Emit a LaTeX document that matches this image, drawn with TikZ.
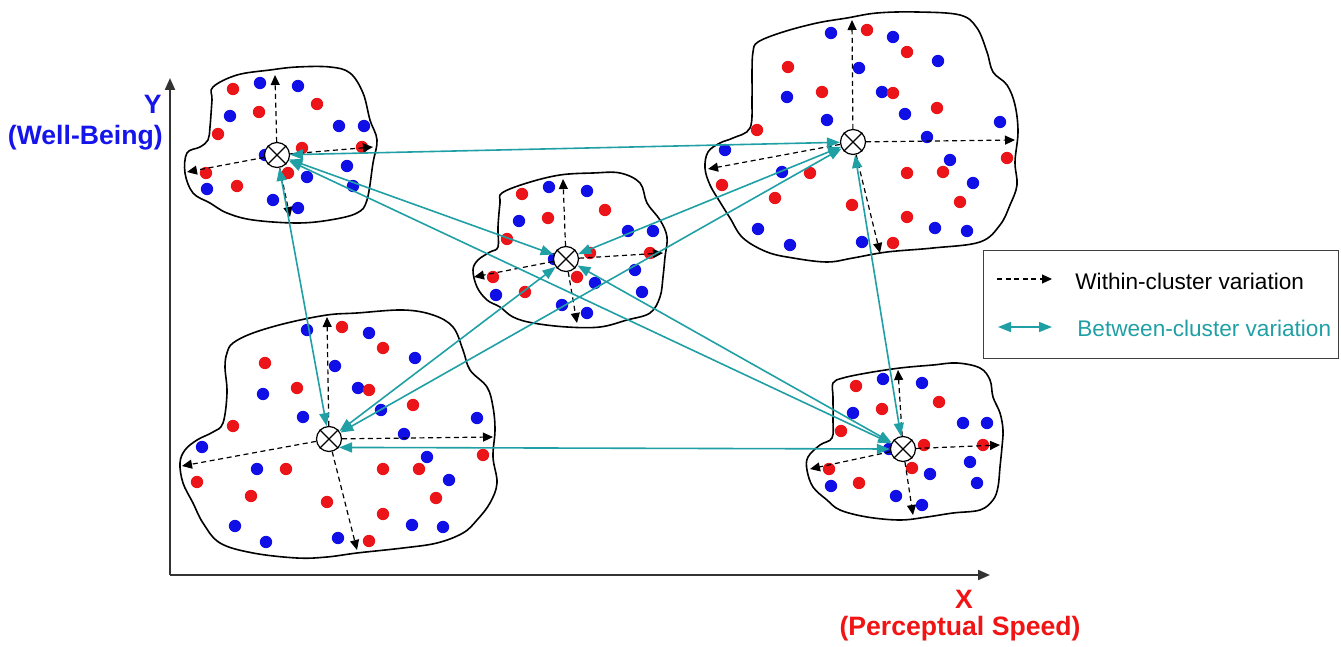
\documentclass[tikz,border=0pt]{standalone}
\usepackage{fontspec}
\setmainfont{Liberation Sans}
\usetikzlibrary{arrows.meta}
\definecolor{tealc}{RGB}{32,160,165}
\definecolor{dotred}{RGB}{235,20,25}
\definecolor{dotblue}{RGB}{15,15,230}
\definecolor{lblblue}{RGB}{20,20,235}
\definecolor{lblred}{RGB}{240,20,20}
\begin{document}
\begin{tikzpicture}[x=0.5pt,y=-0.5pt,
  blob/.style={draw=black,line width=0.8pt},
  ctr/.style={circle,draw=black,fill=white,line width=0.6pt,minimum size=12.5pt,inner sep=0pt},
  within/.style={draw=black,line width=0.6pt,dash pattern=on 2.5pt off 1.8pt,-{Triangle[length=5pt,width=4.5pt]}},
  between/.style={draw=tealc,line width=0.8pt,{Triangle[length=6.5pt,width=5pt]}-{Triangle[length=6.5pt,width=5pt]}},
  axis/.style={draw=black!80,line width=1pt,-{Triangle[length=6pt,width=5pt]}},
  lbl/.style={font=\bfseries\fontsize{13.3pt}{15pt}\selectfont,inner sep=0pt},
  legtxt/.style={font=\fontsize{11.3pt}{13pt}\selectfont,inner sep=0pt,anchor=west},
]
\useasboundingbox (0,0) rectangle (1341,647);

% axes
\coordinate (o) at (170,575);
\coordinate (ytip) at (170,78);
\coordinate (xtip) at (990,575);
\draw[axis] (o) -- (ytip);
\draw[axis] (o) -- (xtip);
\node[lbl,text=lblblue,anchor=base east] (ylab) at (162,114) {Y};
\node[lbl,text=lblblue,anchor=base east] (ylab2) at (163,145) {(Well-Being)};
\node[lbl,text=lblred,anchor=base] (xlab) at (964,608) {X};
\node[lbl,text=lblred,anchor=base] (xlab2) at (960,635) {(Perceptual Speed)};

% blobs
\draw[blob] plot[smooth cycle,tension=0.6] coordinates {(213,87) (237,75) (270,70) (297,67) (330,67) (350,73) (363,93) (370,120) (377,140) (373,163) (367,200) (357,213) (330,220) (297,223) (253,220) (227,213) (210,203) (193,193) (185,173) (187,153) (200,147) (208,140) (210,127) (212,100)};
\draw[blob] plot[smooth cycle,tension=0.6] coordinates {(502,193) (527,183) (560,175) (593,173) (620,173) (640,183) (647,203) (660,220) (667,237) (665,257) (663,277) (660,297) (650,313) (627,320) (600,327) (567,327) (533,323) (513,317) (500,307) (487,300) (477,287) (473,270) (478,260) (490,252) (498,247) (498,227) (500,203)};
\draw[blob] plot[smooth cycle,tension=0.6] coordinates {(753,52) (758,42) (783,32) (817,23) (847,18) (877,13) (917,12) (960,15) (977,28) (987,52) (993,72) (1007,85) (1015,105) (1018,132) (1015,162) (1017,185) (1010,205) (1000,225) (980,242) (933,248) (887,252) (853,258) (827,262) (793,258) (767,252) (743,238) (730,218) (720,202) (710,185) (705,168) (708,152) (720,143) (733,138) (750,128) (752,98) (752,72)};
\draw[blob] plot[smooth cycle,tension=0.6] coordinates {(227,353) (233,343) (253,333) (287,323) (327,315) (357,313) (403,310) (433,315) (453,327) (463,350) (470,370) (487,387) (493,407) (495,430) (493,457) (497,483) (490,503) (477,520) (463,533) (437,543) (403,548) (357,553) (327,557) (297,558) (253,553) (220,543) (203,523) (193,503) (183,483) (180,463) (185,450) (197,440) (213,432) (223,423) (227,393) (225,367)};
\draw[blob] plot[smooth cycle,tension=0.6] coordinates {(833,383) (843,378) (867,373) (900,368) (933,365) (957,363) (980,368) (990,380) (993,397) (1000,413) (1003,430) (1002,447) (1000,467) (998,487) (993,500) (980,510) (953,513) (927,517) (900,520) (867,517) (840,510) (827,500) (813,487) (807,470) (808,457) (820,445) (832,438) (833,420) (833,397)};

% dots: blue first, red on top
\foreach \x/\y in {260/83,298/86,230/116,339/126,364/126,265/155,347/166,307/177,353/186,207/189,273/200,298/208,
  549/187,587/191,519/221,628/231,653/231,554/259,635/270,595/283,642/292,496/295,562/305,587/313,
  831/33,893/37,938/61,859/68,787/97,882/92,827/120,905/114,1000/122,927/137,725/150,950/160,782/172,973/183,758/229,790/245,862/242,935/228,967/231,
  307/330,369/333,415/358,335/366,263/394,358/388,303/417,381/410,477/418,404/434,202/447,427/457,257/469,449/480,235/526,412/525,443/527,266/542,338/538,
  883/379,922/383,853/413,963/423,987/423,889/449,970/462,930/474,977/483,831/486,896/496,922/505}
  \fill[dotblue] (\x,\y) circle[radius=3.1pt];
\foreach \x/\y in {233/89,259/112,218/134,317/104,302/148,362/147,206/173,237/186,288/173,
  522/194,548/218,605/210,507/239,590/253,650/253,493/277,525/292,577/277,
  867/30,907/52,788/67,822/92,893/93,937/108,757/130,1007/158,810/173,907/173,943/172,722/185,775/198,852/205,960/202,907/217,893/243,
  342/327,383/348,265/363,297/388,369/390,413/405,233/426,483/455,286/469,383/469,419/469,197/482,251/496,327/502,436/498,383/514,369/541,
  856/386,939/402,882/409,841/431,924/445,983/445,829/469,859/483,912/468}
  \fill[dotred] (\x,\y) circle[radius=3.1pt];

% cluster centres
\node[ctr] (c1) at (277,155) {};
\node[ctr] (c2) at (566,259) {};
\node[ctr] (c3) at (853,142) {};
\node[ctr] (c4) at (329,439) {};
\node[ctr] (c5) at (903,449) {};
\foreach \c in {c1,c2,c3,c4,c5}
  \draw[line width=0.6pt] (\c.45) -- (\c.225) (\c.135) -- (\c.315);

% within-cluster arrows
\coordinate (c1u) at (275,75);  \coordinate (c1r) at (373,147); \coordinate (c1l) at (187,172); \coordinate (c1d) at (290,217);
\coordinate (c2u) at (563,179); \coordinate (c2r) at (663,253); \coordinate (c2l) at (474,277); \coordinate (c2d) at (577,323);
\coordinate (c3u) at (852,20);  \coordinate (c3r) at (1015,140); \coordinate (c3l) at (708,169); \coordinate (c3d) at (880,253);
\coordinate (c4u) at (327,317); \coordinate (c4r) at (493,437); \coordinate (c4l) at (182,466); \coordinate (c4d) at (357,550);
\coordinate (c5u) at (898,370); \coordinate (c5r) at (1000,445); \coordinate (c5l) at (810,469); \coordinate (c5d) at (913,515);
\foreach \c in {c1,c2,c3,c4,c5}
  \foreach \d in {u,r,l,d}
    \draw[within] (\c) -- (\c\d);

% between-cluster arrows
\draw[between] (c1) -- (c3);
\draw[between] (c1) -- (c2);
\draw[between] (c1) -- (c5);
\draw[between] (c1) -- (c4);
\draw[between] (c3) -- (c2);
\draw[between] (c3) -- (c4);
\draw[between] (c3) -- (c5);
\draw[between] (c2) -- (c4);
\draw[between] (c2) -- (c5);
\draw[between] (c4.-40) -- (c5.west);

% legend
\node[draw=black!75,line width=0.6pt,anchor=north west,minimum width=177.5pt,minimum height=54pt,inner sep=0pt] (legend) at (983,250) {};
\coordinate (lw1) at (997,279); \coordinate (lw2) at (1052,279);
\coordinate (lb1) at (998,327); \coordinate (lb2) at (1052,327);
\draw[within] (lw1) -- (lw2);
\draw[between] (lb1) -- (lb2);
\node[legtxt] (lwt) at (1075,281) {Within-cluster variation};
\node[legtxt,text=tealc] (lbt) at (1077,328) {Between-cluster variation};
\end{tikzpicture}
\end{document}
